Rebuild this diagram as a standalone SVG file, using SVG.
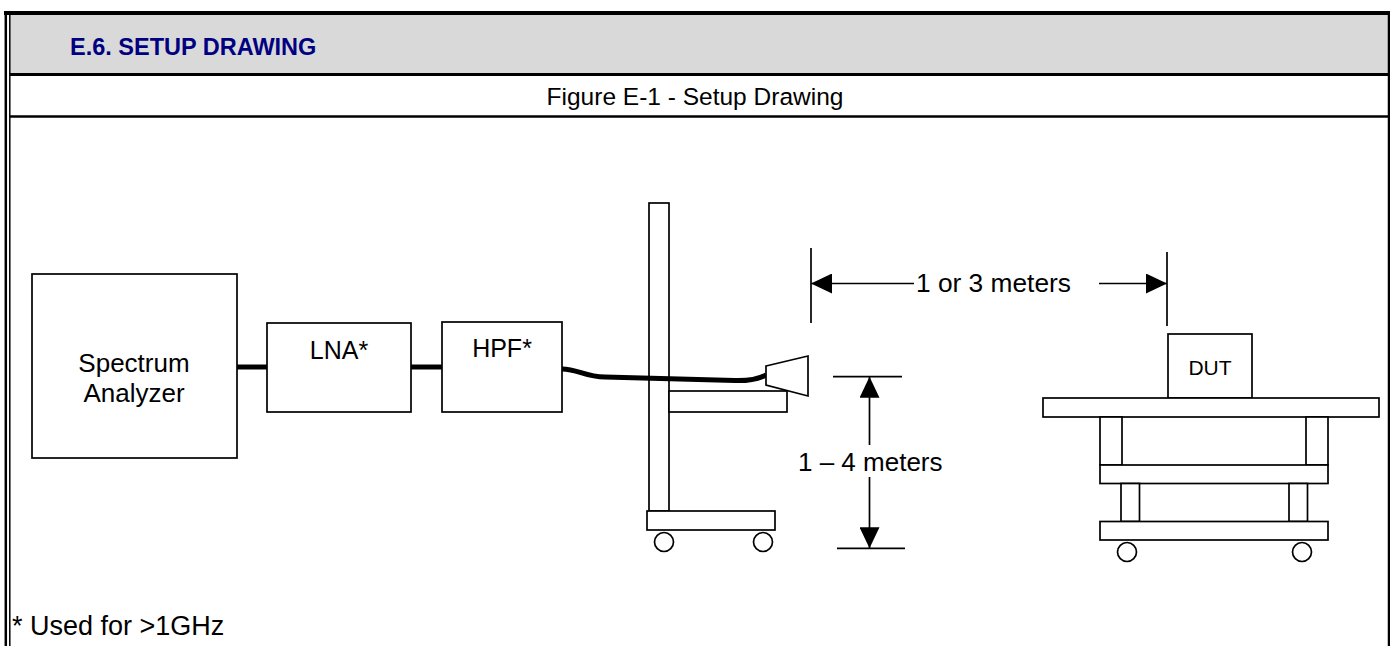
<svg xmlns="http://www.w3.org/2000/svg" width="1390" height="646" viewBox="0 0 1390 646">
<style>
  .box { fill: #ffffff; stroke: #000000; stroke-width: 1.7; }
  .lbl { font-family: "Liberation Sans", Arial, sans-serif; fill: #000000; }
  .thick { stroke: #000000; stroke-width: 5; fill: none; }
  .dim { stroke: #000000; stroke-width: 1.7; fill: none; }
  .frame { stroke: #000000; fill: none; }
</style>
<defs>
  <marker id="arr" markerUnits="userSpaceOnUse" markerWidth="22" markerHeight="20" refX="21" refY="10" orient="auto-start-reverse" viewBox="0 0 22 20">
    <path d="M0,0 L21,10 L0,20 z" fill="#000000"/>
  </marker>
</defs>
<rect x="0" y="0" width="1390" height="646" fill="#ffffff"/>
<g id="frame">
  <rect x="10" y="15" width="1378" height="59" fill="#d9d9d9"/>
  <line class="frame" x1="4" y1="13" x2="1390" y2="13" stroke-width="4"/>
  <line class="frame" x1="5.8" y1="11" x2="5.8" y2="646" stroke-width="2.5"/>
  <line class="frame" x1="9.8" y1="15" x2="9.8" y2="646" stroke-width="1.5"/>
  <line class="frame" x1="1389" y1="11" x2="1389" y2="646" stroke-width="2.5"/>
  <line class="frame" x1="10" y1="74.5" x2="1388" y2="74.5" stroke-width="3"/>
  <line class="frame" x1="10" y1="116.5" x2="1388" y2="116.5" stroke-width="2.5"/>
  <text class="lbl" x="70" y="54.5" font-size="23.5" font-weight="bold" style="fill:#000080">E.6. SETUP DRAWING</text>
  <text class="lbl" x="695" y="105" font-size="24.5" text-anchor="middle">Figure E-1 - Setup Drawing</text>
  <text class="lbl" x="12" y="635" font-size="27">* Used for &gt;1GHz</text>
</g>
<g id="spectrum-analyzer">
  <rect class="box" x="32" y="274" width="205" height="184"/>
  <text class="lbl" x="134" y="371.5" font-size="26" text-anchor="middle">Spectrum</text>
  <text class="lbl" x="134" y="401.5" font-size="26" text-anchor="middle">Analyzer</text>
</g>
<g id="lna">
  <rect class="box" x="267" y="323" width="144" height="89"/>
  <text class="lbl" x="339" y="359" font-size="25" text-anchor="middle">LNA*</text>
</g>
<g id="hpf">
  <rect class="box" x="442" y="322" width="120" height="90"/>
  <text class="lbl" x="502" y="357" font-size="25" text-anchor="middle">HPF*</text>
</g>
<g id="antenna-mast">
  <rect class="box" x="649" y="203" width="20" height="308"/>
  <rect class="box" x="669" y="391" width="118" height="21"/>
  <rect class="box" x="647" y="511" width="128" height="19"/>
  <circle class="box" cx="664" cy="542" r="9.5"/>
  <circle class="box" cx="763" cy="542" r="9.5"/>
</g>
<g id="connectors">
  <line class="thick" x1="237" y1="367" x2="267" y2="367"/>
  <line class="thick" x1="411" y1="367" x2="442" y2="367"/>
  <path class="thick" stroke-width="4.5" d="M562,369 C578,369 585,377 605,377 L735,380.5 C750,381 758,379 766,375"/>
</g>
<g id="horn-antenna">
  <polygon class="box" points="766,366 808,356 808,396 766,385"/>
</g>
<g id="dut-table">
  <rect class="box" x="1168" y="334" width="84" height="64"/>
  <text class="lbl" x="1210" y="375" font-size="21" text-anchor="middle">DUT</text>
  <rect class="box" x="1043" y="398" width="336" height="19"/>
  <rect class="box" x="1100" y="417" width="22" height="48"/>
  <rect class="box" x="1306" y="417" width="22" height="48"/>
  <rect class="box" x="1100" y="465" width="228" height="18.5"/>
  <rect class="box" x="1121" y="483.5" width="18.5" height="38"/>
  <rect class="box" x="1289" y="483.5" width="18.5" height="38"/>
  <rect class="box" x="1100" y="521.5" width="228" height="18.5"/>
  <circle class="box" cx="1127" cy="552" r="9.5"/>
  <circle class="box" cx="1302" cy="552" r="9.5"/>
</g>
<g id="dimension-distance">
  <line class="dim" x1="811" y1="248" x2="811" y2="323"/>
  <line class="dim" x1="1167" y1="252" x2="1167" y2="326"/>
  <line class="dim" x1="811" y1="283.5" x2="914" y2="283.5" marker-start="url(#arr)"/>
  <line class="dim" x1="1099" y1="283.5" x2="1167" y2="283.5" marker-end="url(#arr)"/>
  <text class="lbl" x="916" y="292" font-size="26.3">1 or 3 meters</text>
</g>
<g id="dimension-height">
  <line class="dim" x1="833" y1="376.7" x2="902" y2="376.7"/>
  <line class="dim" x1="837" y1="548.3" x2="905" y2="548.3"/>
  <line class="dim" x1="869.5" y1="376.7" x2="869.5" y2="445" marker-start="url(#arr)"/>
  <line class="dim" x1="869.5" y1="477" x2="869.5" y2="548.3" marker-end="url(#arr)"/>
  <text class="lbl" x="798" y="471" font-size="26">1 – 4 meters</text>
</g>
</svg>
